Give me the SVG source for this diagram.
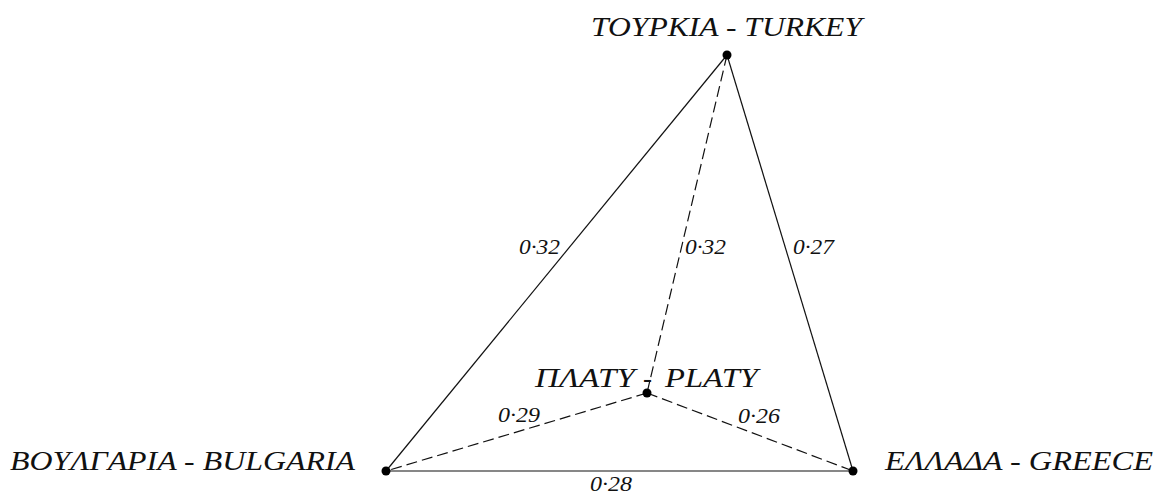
<svg xmlns="http://www.w3.org/2000/svg" width="1159" height="494" viewBox="0 0 1159 494">
<style>
.lbl{font-family:"Liberation Serif","DejaVu Serif",serif;font-style:italic;font-size:27px;fill:#111}
.num{font-family:"Liberation Serif","DejaVu Serif",serif;font-style:italic;font-size:22px;fill:#111}
.solid{stroke:#111;stroke-width:1.2;fill:none}
.dash{stroke:#111;stroke-width:1.2;fill:none;stroke-dasharray:11 5}
.dot{fill:#000}
</style>
<rect width="1159" height="494" fill="#fff"/>
<g id="connectors">
<line class="solid" x1="727" y1="55" x2="386" y2="471"/>
<line class="solid" x1="727" y1="55" x2="853" y2="471"/>
<line class="solid" x1="386" y1="471" x2="853" y2="471"/>
<line class="dash" x1="727" y1="55" x2="647" y2="393"/>
<line class="dash" x1="647" y1="393" x2="386" y2="471"/>
<line class="dash" x1="647" y1="393" x2="853" y2="471"/>
<text class="num" x="519" y="254" textLength="41" lengthAdjust="spacingAndGlyphs">0·32</text>
<text class="num" x="685" y="254" textLength="41" lengthAdjust="spacingAndGlyphs">0·32</text>
<text class="num" x="793" y="254" textLength="41" lengthAdjust="spacingAndGlyphs">0·27</text>
<text class="num" x="498" y="422" textLength="42" lengthAdjust="spacingAndGlyphs">0·29</text>
<text class="num" x="738" y="423" textLength="42" lengthAdjust="spacingAndGlyphs">0·26</text>
<text class="num" x="590" y="491" textLength="42" lengthAdjust="spacingAndGlyphs">0·28</text>
</g>
<g id="turkey">
<circle class="dot" cx="727" cy="55" r="4.5"/>
<text class="lbl" x="591" y="36" textLength="271" lengthAdjust="spacingAndGlyphs">TOYPKIA - TURKEY</text>
</g>
<g id="bulgaria">
<circle class="dot" cx="386" cy="471" r="4.5"/>
<text class="lbl" x="10" y="470" textLength="345" lengthAdjust="spacingAndGlyphs">BOYΛΓAPIA - BULGARIA</text>
</g>
<g id="greece">
<circle class="dot" cx="853" cy="471" r="4.5"/>
<text class="lbl" x="885" y="470" textLength="268" lengthAdjust="spacingAndGlyphs">ΕΛΛΑΔΑ - GREECE</text>
</g>
<g id="platy">
<circle class="dot" cx="647" cy="393" r="4.5"/>
<text class="lbl" y="387"><tspan x="535" textLength="100" lengthAdjust="spacingAndGlyphs">ΠΛΑΤΥ</tspan> <tspan x="643">-</tspan> <tspan x="665" textLength="93" lengthAdjust="spacingAndGlyphs">PLATY</tspan></text>
</g>
</svg>
